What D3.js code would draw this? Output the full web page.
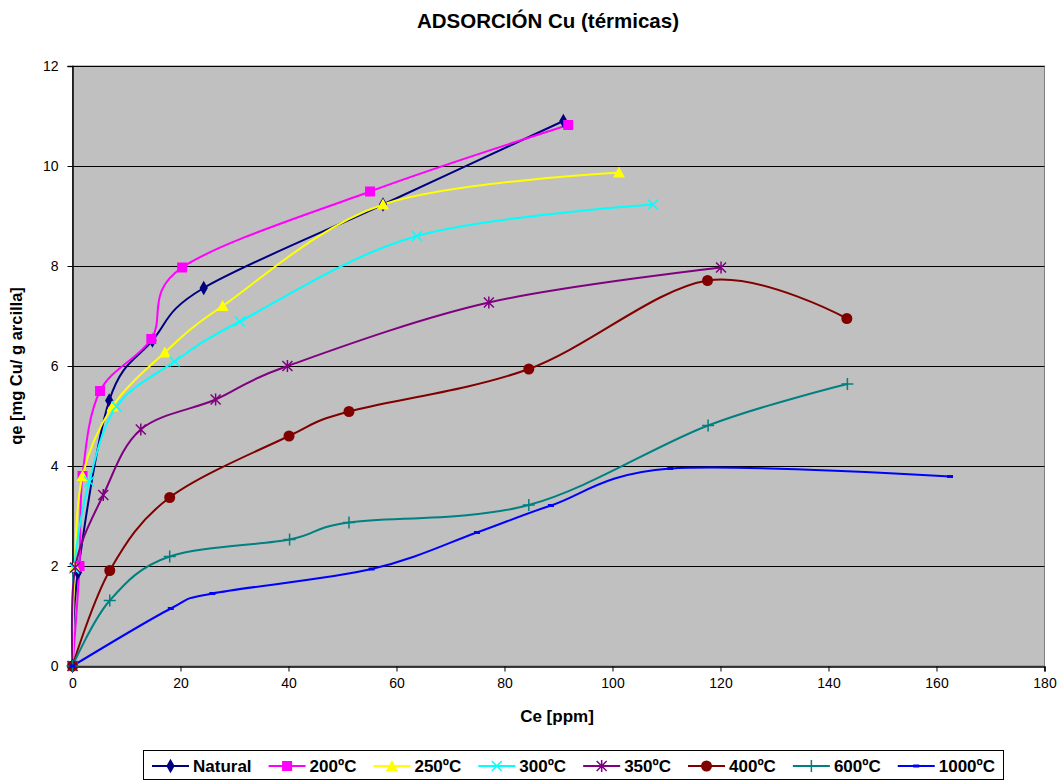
<!DOCTYPE html>
<html>
<head>
<meta charset="utf-8">
<script src="https://cdn.jsdelivr.net/npm/d3@7"></script>
<style>
  html, body { margin: 0; padding: 0; background: #ffffff; }
  svg text { font-family: "Liberation Sans", Arial, sans-serif; fill: #000; }
  svg text.label { font-weight: bold; }
</style>
</head>
<body>
<svg id="chart" width="1061" height="780"></svg>
<script>
// Copper adsorption isotherms for thermally treated clays
const seriesNames = ["Natural", "200ºC", "250ºC", "300ºC", "350ºC", "400ºC", "600ºC", "1000ºC"];
const seriesColors = ["#000080", "#FF00FF", "#FFFF00", "#00FFFF", "#800080", "#800000", "#008080", "#0000FF"];
const seriesMarkers = ["diamond", "square", "triangle", "cross", "asterisk", "circle", "plus", "dash"];

// Ce [ppm] and qe [mg Cu / g arcilla] for each series
const ceNatural = [0, 1.0, 6.8, 14.8, 24.3, 57.5, 90.9];
const qeNatural = [0, 1.87, 5.31, 6.51, 7.56, 9.23, 10.9];
const ce200 = [0, 1.3, 1.85, 5.1, 14.6, 20.3, 55.1, 91.8];
const qe200 = [0, 2.0, 3.8, 5.5, 6.54, 7.97, 9.49, 10.82];
const ce250 = [0, 0.4, 1.85, 7.4, 17.1, 27.8, 57.5, 101.2];
const qe250 = [0, 1.98, 3.8, 5.19, 6.27, 7.2, 9.23, 9.87];
const ce300 = [0, 0.3, 3.1, 8.15, 18.9, 31.0, 63.8, 107.5];
const qe300 = [0, 1.95, 3.69, 5.19, 6.09, 6.89, 8.6, 9.23];
const ce350 = [0, 0.5, 5.7, 12.65, 26.5, 39.8, 77.1, 120.1];
const qe350 = [0, 1.97, 3.42, 4.73, 5.33, 6.0, 7.27, 7.97];
const ce400 = [0, 6.9, 18.0, 40.1, 51.2, 84.5, 117.6, 143.4];
const qe400 = [0, 1.91, 3.37, 4.6, 5.09, 5.94, 7.71, 6.95];
const ce600 = [0, 6.9, 18.0, 40.2, 51.2, 84.5, 117.7, 143.5];
const qe600 = [0, 1.31, 2.19, 2.53, 2.87, 3.22, 4.81, 5.64];
const ce1000 = [0, 18.2, 25.9, 55.4, 74.9, 88.6, 110.7, 162.5];
const qe1000 = [0, 1.15, 1.45, 1.94, 2.67, 3.21, 3.95, 3.79];

const ceSeries = [ceNatural, ce200, ce250, ce300, ce350, ce400, ce600, ce1000];
const qeSeries = [qeNatural, qe200, qe250, qe300, qe350, qe400, qe600, qe1000];

const xTicks = [0, 20, 40, 60, 80, 100, 120, 140, 160, 180];
const yTicks = [0, 2, 4, 6, 8, 10, 12];

const titleText = "ADSORCIÓN Cu (térmicas)";
const xTitle = "Ce [ppm]";
const yTitle = "qe [mg Cu/ g arcilla]";

const series = seriesNames.map((name, i) => ({
  name,
  color: seriesColors[i],
  marker: seriesMarkers[i],
  points: ceSeries[i].map((c, j) => ({ x: c, y: qeSeries[i][j] }))
}));

const svg = d3.select("#chart");
const plot = { left: 72.5, top: 66, right: 1044.5, bottom: 666 };

const x = d3.scaleLinear().domain([0, 180]).range([plot.left, plot.right]);
const y = d3.scaleLinear().domain([0, 12]).range([plot.bottom, plot.top]);

// plot background
svg.append("rect")
  .attr("x", plot.left).attr("y", plot.top)
  .attr("width", plot.right - plot.left).attr("height", plot.bottom - plot.top)
  .attr("fill", "#C0C0C0")
  .attr("stroke", "#808080").attr("stroke-width", 1);

// horizontal gridlines
svg.append("g").selectAll("line")
  .data(yTicks.filter(t => t > 0))
  .join("line")
  .attr("x1", plot.left).attr("x2", plot.right)
  .attr("y1", d => Math.round(y(d)) + 0.5).attr("y2", d => Math.round(y(d)) + 0.5)
  .attr("stroke", "#000").attr("stroke-width", 1);

// axes
const xAxis = d3.axisBottom(x).tickValues(xTicks).tickSize(5).tickPadding(7).tickFormat(d3.format("d"));
const yAxis = d3.axisLeft(y).tickValues(yTicks).tickSize(5).tickPadding(9).tickFormat(d3.format("d"));

const gx = svg.append("g").attr("transform", `translate(0,${plot.bottom + 0.5})`).call(xAxis);
const gy = svg.append("g").attr("transform", `translate(${plot.left},0)`).call(yAxis);
[gx, gy].forEach(g => {
  g.select(".domain").attr("stroke", "#000").attr("stroke-width", 1.5);
  g.selectAll(".tick line").attr("stroke", "#000");
  g.selectAll(".tick text")
    .attr("font-family", "Liberation Sans, Arial, sans-serif")
    .attr("font-size", 14)
    .attr("fill", "#000");
});

// smoothed series lines
const line = d3.line()
  .x(d => x(d.x))
  .y(d => y(d.y))
  .curve(d3.curveCardinal.tension(0));

const gSeries = svg.append("g");
series.forEach(s => {
  gSeries.append("path")
    .datum(s.points)
    .attr("d", line)
    .attr("fill", "none")
    .attr("stroke", s.color)
    .attr("stroke-width", 2);
});

// marker shapes
function drawMarker(g, type, color, cx, cy) {
  switch (type) {
    case "diamond":
      g.append("path").attr("d", d3.symbol(d3.symbolDiamond, 60)())
        .attr("transform", `translate(${cx},${cy})`).attr("fill", color);
      break;
    case "square":
      g.append("rect").attr("x", cx - 5).attr("y", cy - 5).attr("width", 10).attr("height", 10)
        .attr("fill", color);
      break;
    case "triangle":
      g.append("path").attr("d", `M${cx},${cy - 6}L${cx + 6},${cy + 5}L${cx - 6},${cy + 5}Z`)
        .attr("fill", color);
      break;
    case "cross":
      g.append("path").attr("d", `M${cx - 5},${cy - 5}L${cx + 5},${cy + 5}M${cx - 5},${cy + 5}L${cx + 5},${cy - 5}`)
        .attr("stroke", color).attr("stroke-width", 1.5);
      break;
    case "asterisk":
      g.append("path").attr("d", `M${cx - 5},${cy - 5}L${cx + 5},${cy + 5}M${cx - 5},${cy + 5}L${cx + 5},${cy - 5}M${cx},${cy - 6}L${cx},${cy + 6}`)
        .attr("stroke", color).attr("stroke-width", 1.5);
      break;
    case "circle":
      g.append("circle").attr("cx", cx).attr("cy", cy).attr("r", 5.5).attr("fill", color);
      break;
    case "plus":
      g.append("path").attr("d", `M${cx - 6},${cy}L${cx + 6},${cy}M${cx},${cy - 6}L${cx},${cy + 6}`)
        .attr("stroke", color).attr("stroke-width", 1.5);
      break;
    case "dash":
      g.append("rect").attr("x", cx - 3).attr("y", cy - 1.5).attr("width", 6).attr("height", 3)
        .attr("fill", color);
      break;
  }
}

const gMarkers = svg.append("g");
series.forEach(s => {
  s.points.forEach(p => drawMarker(gMarkers, s.marker, s.color, x(p.x), y(p.y)));
});

// titles
svg.append("text").attr("class", "label")
  .attr("x", 548).attr("y", 28)
  .attr("text-anchor", "middle")
  .attr("font-size", 20.5)
  .text(titleText);

svg.append("text").attr("class", "label")
  .attr("x", 557).attr("y", 722)
  .attr("text-anchor", "middle")
  .attr("font-size", 17)
  .text(xTitle);

svg.append("text").attr("class", "label")
  .attr("transform", `translate(22,${366}) rotate(-90)`)
  .attr("text-anchor", "middle")
  .attr("font-size", 16.5)
  .text(yTitle);

// legend
const legend = svg.append("g");
legend.append("rect")
  .attr("x", 143.5).attr("y", 750.5).attr("width", 860).attr("height", 29)
  .attr("fill", "#fff").attr("stroke", "#000").attr("stroke-width", 1);

let lx = 152;
const ly = 766;
series.forEach(s => {
  const item = legend.append("g");
  item.append("line")
    .attr("x1", lx).attr("x2", lx + 37).attr("y1", ly).attr("y2", ly)
    .attr("stroke", s.color).attr("stroke-width", 2);
  drawMarker(item, s.marker, s.color, lx + 18.5, ly);
  const t = item.append("text").attr("class", "label")
    .attr("x", lx + 41).attr("y", ly + 6)
    .attr("font-size", 17)
    .text(s.name);
  lx += 41 + t.node().getComputedTextLength() + 17;
});
</script>
</body>
</html>
